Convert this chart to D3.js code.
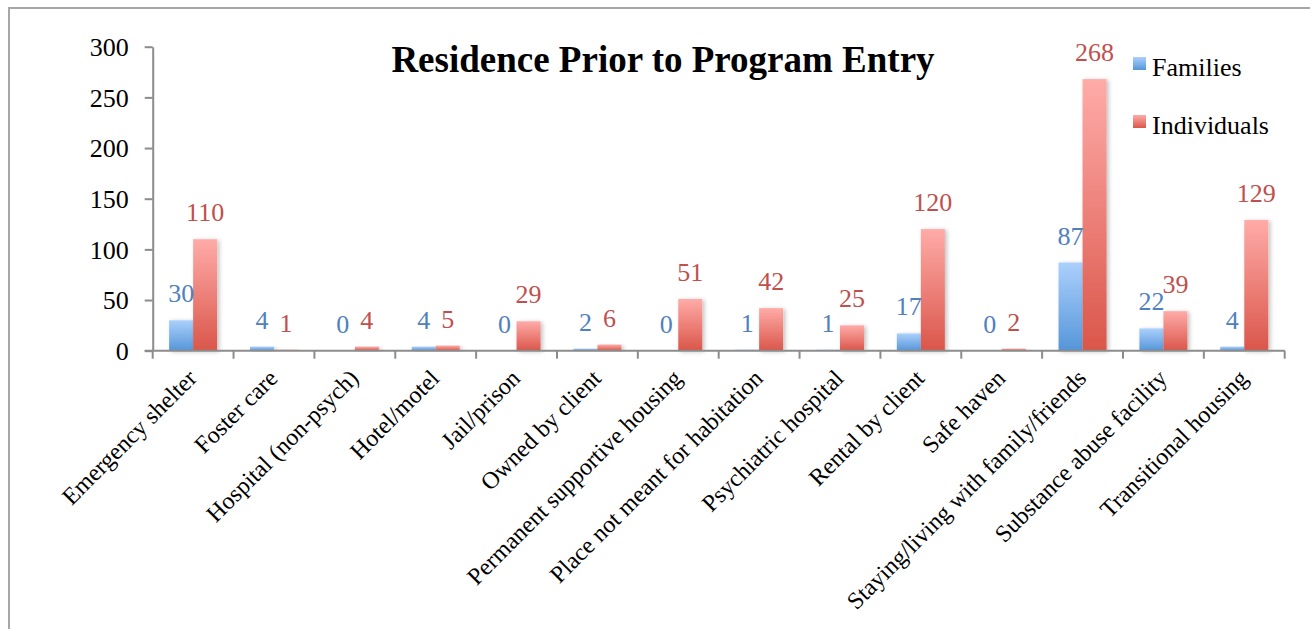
<!DOCTYPE html>
<html>
<head>
<meta charset="utf-8">
<script src="https://cdn.jsdelivr.net/npm/d3@7"></script>
<style>
  body { margin: 0; background: #fff; }
  svg { display: block; }
</style>
</head>
<body>
<div class="container"></div>
<script>
const categories = ["Emergency shelter", "Foster care", "Hospital (non-psych)", "Hotel/motel", "Jail/prison",
  "Owned by client", "Permanent supportive housing", "Place not meant for habitation", "Psychiatric hospital",
  "Rental by client", "Safe haven", "Staying/living with family/friends", "Substance abuse facility", "Transitional housing"];
const families = [30, 4, 0, 4, 0, 2, 0, 1, 1, 17, 0, 87, 22, 4];
const individuals = [110, 1, 4, 5, 29, 6, 51, 42, 25, 120, 2, 268, 39, 129];
const seriesNames = ["Families", "Individuals"];
const yTicks = [0, 50, 100, 150, 200, 250, 300];

const w = 1310;
const h = 629;
const plotLeft = 152.7, plotRight = 1284.7, plotTop = 46.7, plotBottom = 350.7;
const serif = "'Liberation Serif', 'Times New Roman', serif";

const svg = d3.select(".container")
  .append("svg")
  .attr("width", w)
  .attr("height", h)
  .attr("font-family", serif);

const defs = svg.append("defs");
const grads = [
  { id: "gradBlue", top: "#abd0fc", bottom: "#5596d9" },
  { id: "gradRed", top: "#ffaba8", bottom: "#da564a" }
];
grads.forEach((g) => {
  const lg = defs.append("linearGradient")
    .attr("id", g.id)
    .attr("x1", 0).attr("y1", 0).attr("x2", 0).attr("y2", 1);
  lg.append("stop").attr("offset", "0%").attr("stop-color", g.top);
  lg.append("stop").attr("offset", "100%").attr("stop-color", g.bottom);
});
const shadow = defs.append("filter")
  .attr("id", "shadow")
  .attr("x", "-30%").attr("y", "-10%").attr("width", "160%").attr("height", "130%");
shadow.append("feDropShadow")
  .attr("dx", 2).attr("dy", 1)
  .attr("stdDeviation", 2)
  .attr("flood-color", "#000")
  .attr("flood-opacity", 0.25);

// outer frame (left and top edges only visible)
svg.append("path")
  .attr("d", "M9," + h + "V8H" + w)
  .attr("fill", "none")
  .attr("stroke", "#a6a6a6")
  .attr("stroke-width", 2);

const xScale = d3.scaleBand()
  .domain(categories)
  .range([plotLeft, plotRight])
  .padding(0);
const bw = xScale.bandwidth();
const barW = 24;
const xInner = d3.scaleBand()
  .domain(seriesNames)
  .range([bw / 2 - barW, bw / 2 + barW]);

const yScale = d3.scaleLinear()
  .domain([0, 300])
  .range([plotBottom, plotTop]);

// y axis
const yAxis = d3.axisLeft(yScale)
  .tickValues(yTicks)
  .tickSize(8)
  .tickPadding(16)
  .tickSizeOuter(0);
const yG = svg.append("g")
  .attr("transform", "translate(" + plotLeft + ",0)")
  .call(yAxis)
  .attr("font-family", serif)
  .attr("font-size", 26);
yG.selectAll("text")
  .attr("fill", "#000")
  .attr("dy", "0.34em");

// bars
const seriesData = [
  { name: "Families", values: families, fill: "url(#gradBlue)", labelColor: "#4f81bd" },
  { name: "Individuals", values: individuals, fill: "url(#gradRed)", labelColor: "#c0504d" }
];

seriesData.forEach((s) => {
  const g = svg.append("g");
  g.selectAll("rect")
    .data(s.values)
    .enter()
    .append("rect")
    .attr("x", (d, i) => xScale(categories[i]) + xInner(s.name))
    .attr("y", (d) => yScale(d))
    .attr("width", barW)
    .attr("height", (d) => yScale(0) - yScale(d))
    .attr("fill", s.fill)
    .attr("filter", (d) => d > 0 ? "url(#shadow)" : null);
});

// x axis
const xAxisG = svg.append("g");
xAxisG.append("line")
  .attr("x1", plotLeft - 8)
  .attr("x2", plotRight)
  .attr("y1", plotBottom)
  .attr("y2", plotBottom)
  .attr("stroke", "#8c8c8c")
  .attr("stroke-width", 2);
const bounds = categories.map((c) => xScale(c)).concat([plotRight]);
xAxisG.selectAll(".xtick")
  .data(bounds)
  .enter()
  .append("line")
  .attr("x1", (d) => d)
  .attr("x2", (d) => d)
  .attr("y1", plotBottom)
  .attr("y2", plotBottom + 8)
  .attr("stroke", "#8c8c8c")
  .attr("stroke-width", 2);

yG.select(".domain").attr("stroke", "#8c8c8c").attr("stroke-width", 2);
yG.selectAll(".tick line").attr("stroke", "#8c8c8c").attr("stroke-width", 2);

// category labels
svg.append("g")
  .selectAll("text")
  .data(categories)
  .enter()
  .append("text")
  .attr("transform", (d) => "translate(" + (xScale(d) + bw / 2 + 5) + "," + (plotBottom + 29) + ") rotate(-45)")
  .attr("text-anchor", "end")
  .attr("font-family", serif)
  .attr("font-size", 24)
  .attr("fill", "#000")
  .text((d) => d);

// value labels
seriesData.forEach((s) => {
  svg.append("g")
    .selectAll("text")
    .data(s.values)
    .enter()
    .append("text")
    .attr("x", (d, i) => xScale(categories[i]) + xInner(s.name) + barW / 2)
    .attr("y", (d) => yScale(d) - 18)
    .attr("text-anchor", "middle")
    .attr("font-family", serif)
    .attr("font-size", 26)
    .attr("fill", s.labelColor)
    .text((d) => d);
});

// title
svg.append("text")
  .attr("x", 663)
  .attr("y", 72)
  .attr("text-anchor", "middle")
  .attr("font-family", serif)
  .attr("font-size", 37)
  .attr("font-weight", "bold")
  .attr("fill", "#000")
  .text("Residence Prior to Program Entry");

// legend
const legend = svg.append("g").attr("id", "legend");
seriesData.forEach((s, i) => {
  legend.append("rect")
    .attr("x", 1133)
    .attr("y", 57 + i * 58)
    .attr("width", 13)
    .attr("height", 13)
    .attr("fill", s.fill);
  legend.append("text")
    .attr("x", 1152)
    .attr("y", 76 + i * 58)
    .attr("font-family", serif)
    .attr("font-size", 26)
    .attr("fill", "#000")
    .text(s.name);
});
</script>
</body>
</html>
